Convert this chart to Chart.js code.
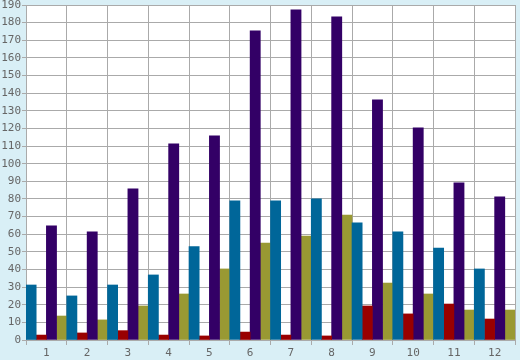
<!DOCTYPE html>
<html><head><meta charset="utf-8">
<script src="https://cdn.jsdelivr.net/npm/chart.js@4"></script>
<style>
html,body{margin:0;padding:0;background:#d9eff6;}
#wrap{width:520px;height:360px;position:relative;}
</style></head>
<body><div id="wrap"><canvas id="c" width="520" height="360"></canvas></div>
<script>
const categories = ['1','2','3','4','5','6','7','8','9','10','11','12'];
const seriesBlue   = [31.2, 25, 31.2, 36.9, 53, 78.9, 78.9, 80, 66.4, 61.3, 52.2, 40.3];
const seriesRed    = [2.8, 4, 5.3, 2.8, 2.3, 4.5, 2.8, 2.3, 19.3, 14.8, 20.4, 11.9];
const seriesPurple = [64.7, 61.3, 85.7, 111.2, 115.8, 175.4, 187.3, 183.3, 136.2, 120.3, 89.1, 81.2];
const seriesOlive  = [13.6, 11.4, 19.3, 26.1, 40.3, 55, 59, 70.9, 32.3, 26.1, 17, 17];
const yMin = 0, yMax = 190, yStep = 10;

const plotBg = {
  id: 'plotBg',
  beforeDraw(chart) {
    const {ctx, chartArea: a} = chart;
    ctx.save();
    ctx.fillStyle = '#ffffff';
    ctx.fillRect(a.left, a.top, a.right - a.left, a.bottom - a.top);
    ctx.restore();
  }
};

const font = {family: '"DejaVu Sans Mono", monospace', size: 11};
const mk = (label, data, color) => ({label, data, backgroundColor: color, borderWidth: 0,
  categoryPercentage: 1, barPercentage: 1});

new Chart(document.getElementById('c'), {
  type: 'bar',
  data: {
    labels: categories,
    datasets: [
      mk('A', seriesBlue, '#006699'),
      mk('B', seriesRed, '#990000'),
      mk('C', seriesPurple, '#330066'),
      mk('D', seriesOlive, '#999933')
    ]
  },
  options: {
    responsive: false,
    animation: false,
    devicePixelRatio: 1,
    layout: {padding: {left: 0, right: 5, top: 5, bottom: 0}},
    plugins: {legend: {display: false}, tooltip: {enabled: false}},
    scales: {
      x: {
        offset: true,
        grid: {offset: true, color: '#aaaaaa', lineWidth: 1, tickLength: 5, drawOnChartArea: true},
        border: {color: '#aaaaaa'},
        ticks: {color: '#666666', font, padding: 2, maxRotation: 0},
        afterFit(s) { s.height = 20; s.paddingLeft = 0; s.paddingRight = 0; }
      },
      y: {
        min: yMin, max: yMax,
        grid: {color: '#aaaaaa', lineWidth: 1, tickLength: 4},
        border: {color: '#aaaaaa'},
        ticks: {stepSize: yStep, color: '#666666', font, padding: 1, autoSkip: false},
        afterFit(s) { s.width = 26; s.paddingTop = 0; s.paddingBottom = 0; }
      }
    }
  },
  plugins: [plotBg]
});
</script></body></html>
